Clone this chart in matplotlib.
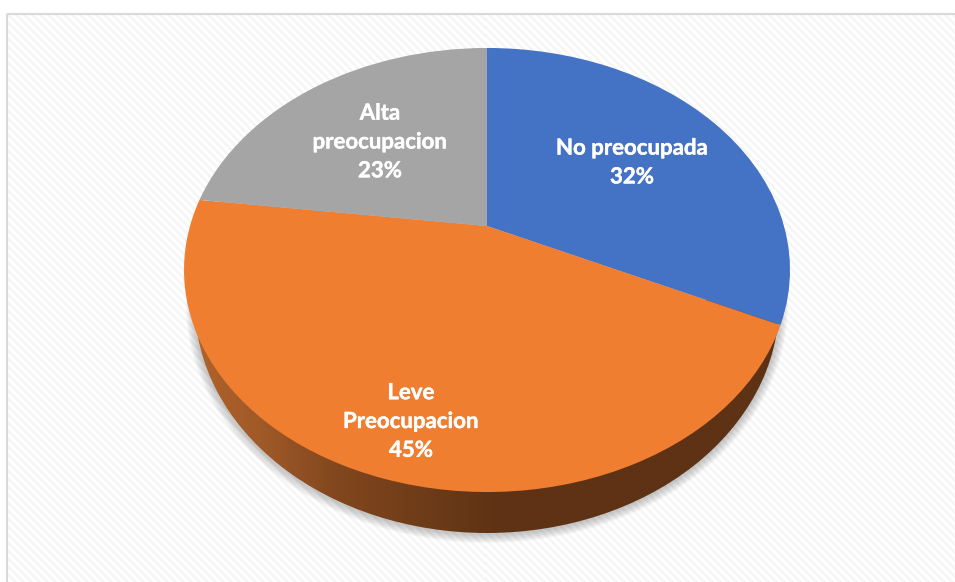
import numpy as np
import matplotlib
matplotlib.use("Agg")
import matplotlib.pyplot as plt
import matplotlib.patheffects as pe
from matplotlib.transforms import Transform
from matplotlib.patches import Ellipse, Rectangle
from matplotlib.colors import LinearSegmentedColormap, ListedColormap

categories = ["No preocupada", "Leve\nPreocupacion", "Alta\npreocupacion"]
values = [32, 45, 23]
colors = ["#4472C4", "#F07E30", "#A5A5A5"]
label_xy = [(632, 162.5), (411, 421.5), (380, 142)]

W, H = 955, 582
CX, CY, A, B, C, K = 487.0, 270.0, 297.0, 222.0, 44.0, 0.198


class Perspective(Transform):
    input_dims = 2
    output_dims = 2
    is_separable = False
    has_inverse = False

    def transform_non_affine(self, values):
        v = np.asarray(values, dtype=float)
        w = 1 + K * v[:, 1]
        return np.column_stack([CX + A * v[:, 0] / w, CY - (B * v[:, 1] + C) / w])


fig = plt.figure(figsize=(W / 100, H / 100), dpi=100)
ax = fig.add_axes([0, 0, 1, 1])

wedges, _ = ax.pie(values, colors=colors, startangle=90, counterclock=False,
                   wedgeprops=dict(linewidth=0, zorder=5))
proj = Perspective()
for w in wedges:
    w.set_transform(proj + ax.transData)

ax.set_aspect("auto")
ax.set_xlim(0, W)
ax.set_ylim(H, 0)
ax.axis("off")

# chart area: light diagonal stripes inside a grey frame
yy, xx = np.mgrid[14:H, 7:W]
stripes = ((xx - yy) % 8 < 4).astype(float)
ax.imshow(stripes, extent=(7, W, H, 14), aspect="auto", interpolation="nearest",
          cmap=ListedColormap(["#FFFFFF", "#F6F6F6"]), zorder=0)
ax.add_patch(Rectangle((7, 14), W, H, fill=False, ec="#D9D9D9", lw=1.5, zorder=1))
ax.set_xlim(0, W)
ax.set_ylim(H, 0)

# underside of the disc
wall_c = (487, 304)
wall_w, wall_h = 584, 458
for grow in range(9, 0, -1):
    ax.add_patch(Ellipse((wall_c[0], wall_c[1] + 1), wall_w + 2 * grow, wall_h + 2 * grow,
                         fc="#606060", ec="none", alpha=0.045, zorder=2))
wall_clip = Ellipse(wall_c, wall_w, wall_h, fc="none", ec="none", zorder=3)
ax.add_patch(wall_clip)
cmap = LinearSegmentedColormap.from_list("wall", [(0, "#B0622A"), (0.11, "#A05A28"),
                                                  (0.24, "#82471E"), (0.42, "#6A3A18"),
                                                  (0.52, "#5E3214"), (1, "#5E3214")])
grad = ax.imshow(np.linspace(0, 1, 256)[None, :], extent=(195, 780, 540, 300),
                 aspect="auto", cmap=cmap, zorder=3)
grad.set_clip_path(wall_clip)
ax.set_xlim(0, W)
ax.set_ylim(H, 0)

for cat, val, (x, y) in zip(categories, values, label_xy):
    ax.text(x, y, f"{cat}\n{val}%", color="white", ha="center", va="center",
            family=["Lato", "DejaVu Sans"], weight="bold", fontsize=16,
            linespacing=1.46, zorder=6,
            path_effects=[pe.withStroke(linewidth=0.3, foreground="white")])

fig.savefig("out.png", dpi=100, facecolor="white")
